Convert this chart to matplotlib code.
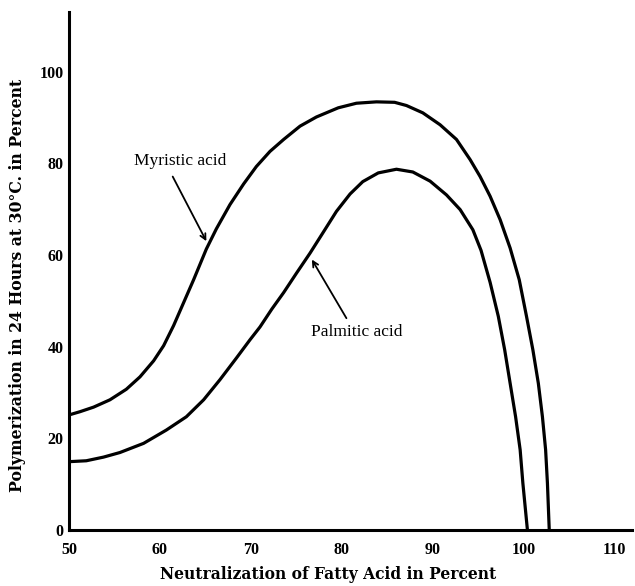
import matplotlib
matplotlib.use("Agg")
import matplotlib.pyplot as plt

# values
MYR_X = [50, 51.2, 52.7, 54.5, 56.3, 57.8, 59.3, 60.4, 61.5, 62.6, 63.7,
         65.1, 66.2, 67.7, 69.2, 70.6, 72.1, 73.6, 75.4, 77.2, 79.6, 81.6,
         83.8, 85.8, 87.1, 88.9, 90.8, 92.6, 94.1, 95.2, 96.3, 97.4, 98.5,
         99.5, 100.3, 101.0, 101.6, 102.05, 102.4, 102.6, 102.8]
MYR_Y = [25.1, 25.8, 26.8, 28.4, 30.7, 33.4, 36.9, 40.2, 44.6, 49.6, 54.6,
         61.3, 65.7, 71.0, 75.5, 79.3, 82.6, 85.2, 88.1, 90.1, 92.1, 93.1,
         93.4, 93.3, 92.6, 91.0, 88.4, 85.2, 80.8, 77.1, 72.8, 67.7, 61.5,
         54.6, 46.6, 39.3, 32.0, 24.7, 17.5, 10.2, 0]

PAL_X = [50, 51.9, 53.8, 55.6, 58.2, 60.7, 62.9, 64.8, 66.6, 68.4, 69.9,
         71.0, 72.3, 73.6, 75.0, 76.5, 78.0, 79.4, 80.9, 82.3, 84.0, 86.0,
         87.8, 89.7, 91.5, 93.0, 94.4, 95.3, 96.3, 97.2, 97.9, 98.5, 99.1,
         99.6, 99.9, 100.4]
PAL_Y = [14.9, 15.1, 15.9, 16.9, 18.9, 21.8, 24.7, 28.4, 32.8, 37.5, 41.5,
         44.3, 48.2, 51.8, 56.0, 60.4, 65.1, 69.5, 73.3, 76.0, 77.9, 78.7,
         78.1, 76.1, 73.1, 69.9, 65.5, 61.0, 54.0, 46.6, 39.3, 32.0, 24.7,
         17.5, 10.2, 0]

X_TICKS = [50, 60, 70, 80, 90, 100, 110]
Y_TICKS = [0, 20, 40, 60, 80, 100]

SERIF = ["Liberation Serif", "DejaVu Serif"]
WIDE_SERIF = ["DejaVu Serif"]

fig = plt.figure(figsize=(6.35, 5.86), dpi=100)
ax = fig.add_axes([0.1087, 0.0956, 0.8866, 0.8839])

for xs, ys in [(MYR_X, MYR_Y), (PAL_X, PAL_Y)]:
    ax.plot(xs, ys, color="black", lw=2.3, solid_joinstyle="round",
            solid_capstyle="butt")

ax.set_xlim(50, 111.9)
ax.set_ylim(0, 113)

for s in ["top", "right"]:
    ax.spines[s].set_visible(False)
for s in ["left", "bottom"]:
    ax.spines[s].set_linewidth(2.2)

ax.set_xticks(X_TICKS)
ax.set_yticks(Y_TICKS)
ax.tick_params(length=0)
ax.tick_params(axis="x", pad=9)
ax.tick_params(axis="y", pad=4)
for lab in ax.get_xticklabels() + ax.get_yticklabels():
    lab.set_family(SERIF)
    lab.set_fontweight("bold")
    lab.set_fontsize(11.5)

ax.set_xlabel("Neutralization of Fatty Acid in Percent",
              family=WIDE_SERIF, fontweight="bold", fontsize=11.2)
ax.set_ylabel("Polymerization in 24 Hours at 30°C. in Percent",
              family=WIDE_SERIF, fontweight="bold", fontsize=11.3)
ax.xaxis.set_label_coords(0.46, -0.069)
ax.yaxis.set_label_coords(-0.077, 0.473)

ax.text(62.2, 80.4, "Myristic acid", ha="center", va="center",
        family=SERIF, fontsize=12.5)
ax.annotate("", xy=(65.1, 63.0), xytext=(61.4, 77.1),
            arrowprops=dict(arrowstyle="->", color="black", lw=1.3,
                            shrinkA=0, shrinkB=0))
ax.text(81.6, 43.3, "Palmitic acid", ha="center", va="center",
        family=SERIF, fontsize=12.5)
ax.annotate("", xy=(76.7, 59.0), xytext=(80.5, 46.2),
            arrowprops=dict(arrowstyle="->", color="black", lw=1.3,
                            shrinkA=0, shrinkB=0))

fig.savefig("out.png", dpi=100)
